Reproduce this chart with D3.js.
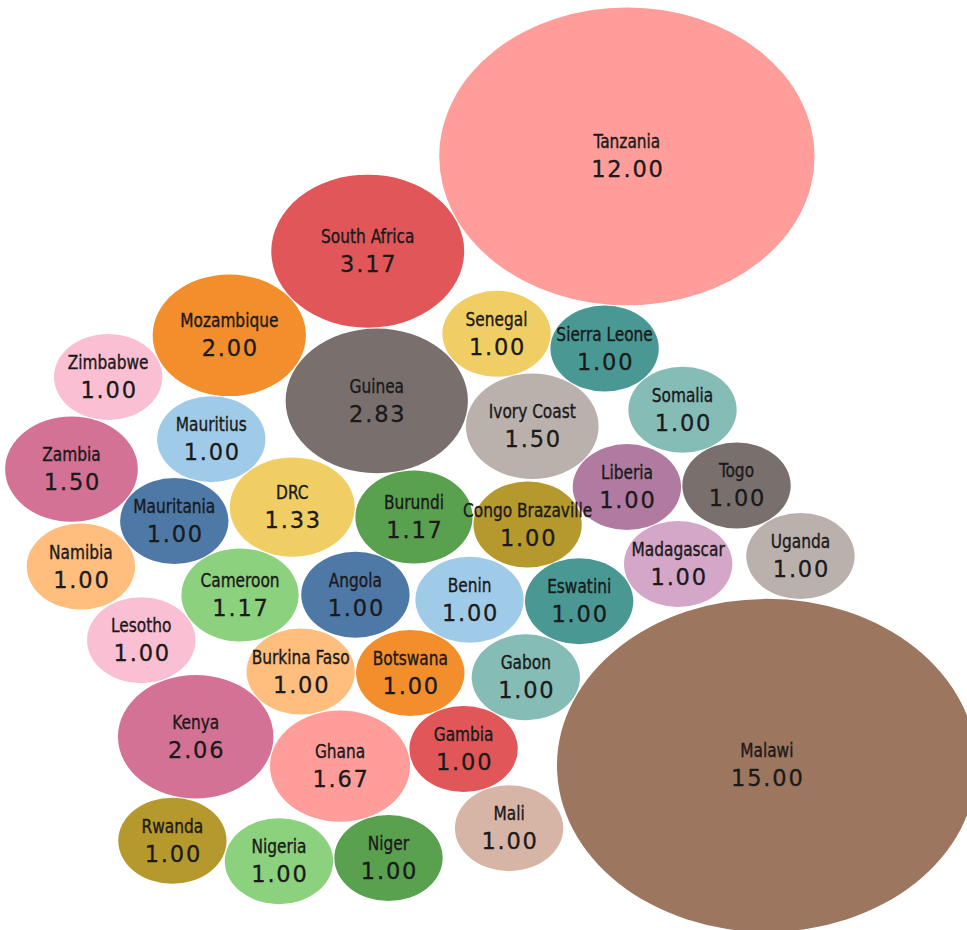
<!DOCTYPE html>
<meta charset="utf-8">
<head>
    <title>Packed bubbles by country</title>
    <script type="text/javascript" src="https://cdn.jsdelivr.net/npm/d3@7"></script>
    <style>
        body { margin: 0; background: white; }
        .name { font-family: "DejaVu Sans Condensed", "Liberation Sans Narrow", sans-serif; font-size: 19px; fill: #1a1a1a; stroke: #1a1a1a; stroke-width: 0.35px; }
        .value { font-family: "DejaVu Sans", Verdana, sans-serif; font-size: 22.5px; fill: #1a1a1a; stroke: #1a1a1a; stroke-width: 0.3px; letter-spacing: 1.8px; }
    </style>
</head>

<body>
    <script>
        // data
        const countries = ["Tanzania", "Malawi", "South Africa", "Mozambique", "Guinea", "Zimbabwe",
            "Senegal", "Sierra Leone", "Somalia", "Ivory Coast", "Mauritius", "Zambia", "DRC", "Burundi",
            "Mauritania", "Congo Brazaville", "Liberia", "Togo", "Madagascar", "Uganda", "Namibia",
            "Cameroon", "Angola", "Benin", "Eswatini", "Lesotho", "Burkina Faso", "Botswana", "Gabon",
            "Kenya", "Ghana", "Gambia", "Mali", "Rwanda", "Nigeria", "Niger"]
        const values = [12.00, 15.00, 3.17, 2.00, 2.83, 1.00,
            1.00, 1.00, 1.00, 1.50, 1.00, 1.50, 1.33, 1.17,
            1.00, 1.00, 1.00, 1.00, 1.00, 1.00, 1.00,
            1.17, 1.00, 1.00, 1.00, 1.00, 1.00, 1.00, 1.00,
            2.06, 1.67, 1.00, 1.00, 1.00, 1.00, 1.00]
        const colors = ["#ff9d9a", "#9d7660", "#e15759", "#f28e2b", "#79706e", "#fabfd2",
            "#f1ce63", "#499894", "#86bcb6", "#bab0ac", "#a0cbe8", "#d37295", "#f1ce63", "#59a14f",
            "#4e79a7", "#b6992d", "#b07aa1", "#79706e", "#d4a6c8", "#bab0ac", "#ffbe7d",
            "#8cd17d", "#4e79a7", "#a0cbe8", "#499894", "#fabfd2", "#ffbe7d", "#f28e2b", "#86bcb6",
            "#d37295", "#ff9d9a", "#e15759", "#d7b5a6", "#b6992d", "#8cd17d", "#59a14f"]

        // rough packing order on a coarse grid (half a small bubble per unit), the force layout settles the rest
        const packCol = [11.6, 14.2, 6.8, 4.3, 7.0, 2.0, 9.2, 11.2, 12.6, 9.9, 3.9, 1.43, 5.4, 7.7,
            3.3, 9.7, 11.6, 13.6, 12.5, 14.8, 1.54, 4.3, 6.6, 8.7, 10.7, 2.75, 5.4, 7.6, 9.7,
            3.68, 6.33, 8.6, 9.4, 3.3, 5.2, 7.0]
        const packRow = [3.65, 17.8, 5.9, 7.9, 9.3, 8.8, 7.8, 8.1, 9.5, 9.9, 10.1, 10.95, 11.8, 12.0,
            12.15, 12.2, 11.3, 11.3, 13.1, 12.9, 13.15, 13.8, 13.8, 14.0, 14.0, 14.9, 15.6, 15.6, 15.8,
            17.1, 17.84, 17.4, 19.2, 19.5, 20.0, 19.8]

        w = 967
        h = 930
        aspect = 1.26   // bubbles are stretched sideways

        let svg = d3.select("body").append("svg")
            .attr("width", w)
            .attr("height", h)
            .style("display", "block")

        const r = d3.scaleSqrt().domain([0, 15]).range([0, 43 * Math.sqrt(15)])
        const xs = d3.scaleLinear().domain([0, 1]).range([0, 54 / aspect])
        const ys = d3.scaleLinear().domain([0, 1]).range([0, 43])

        let nodes = countries.map(function (c, i) {
            return {name: c, value: values[i], color: colors[i],
                tx: xs(packCol[i]), ty: ys(packRow[i]), x: xs(packCol[i]), y: ys(packRow[i])}
        })

        // collision in circle space, x is stretched afterwards
        let sim = d3.forceSimulation(nodes)
            .force("x", d3.forceX(d => d.tx).strength(0.6))
            .force("y", d3.forceY(d => d.ty).strength(0.6))
            .force("collide", d3.forceCollide(d => r(d.value) + 0.5).strength(0.5).iterations(2))
            .stop()
        for (let i = 0; i < 300; i++) sim.tick()

        let bubbles = svg.append("g").attr("id", "bubbles")
        let labels = svg.append("g").attr("id", "labels")

        bubbles.selectAll("ellipse")
            .data(nodes)
            .enter()
            .append("ellipse")
            .attr("cx", d => d.x * aspect)
            .attr("cy", d => d.y)
            .attr("rx", d => r(d.value) * aspect)
            .attr("ry", d => r(d.value))
            .attr("fill", d => d.color)

        // labels on top so long names can spill over neighbours
        let lab = labels.selectAll("g")
            .data(nodes)
            .enter()
            .append("g")
            .attr("transform", d => "translate(" + (d.x * aspect) + "," + d.y + ")")

        lab.append("text")
            .attr("class", "name")
            .attr("text-anchor", "middle")
            .attr("transform", "translate(0,-8) scale(0.9,1)")
            .text(d => d.name)

        lab.append("text")
            .attr("class", "value")
            .attr("text-anchor", "middle")
            .attr("x", 1)
            .attr("y", 21)
            .text(d => d3.format(".2f")(d.value))
    </script>
</body>
</html>
